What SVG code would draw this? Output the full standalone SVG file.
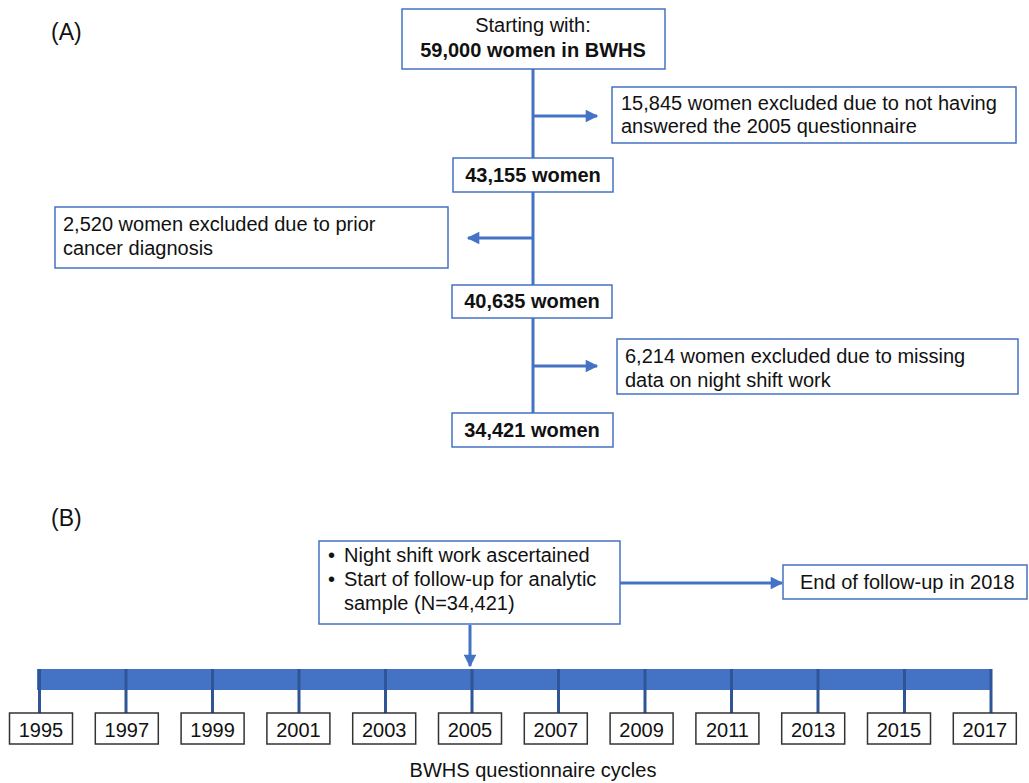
<svg xmlns="http://www.w3.org/2000/svg" width="1029" height="783" viewBox="0 0 1029 783">
<defs>
<style>
text{font-family:"Liberation Sans",Arial,Helvetica,sans-serif;font-size:20px;fill:#111}
.b{font-weight:bold}
.c{text-anchor:middle}
.box{fill:#fff;stroke:#4472C4;stroke-width:1.5}
.yb{fill:#fff;stroke:#333;stroke-width:1.5}
.ln{stroke:#4472C4;stroke-width:3;fill:none}
.arr{stroke:#4472C4;stroke-width:3;fill:none;marker-end:url(#ah)}
.tick{stroke:#2F5597;stroke-width:3}
.lbl{font-size:23px}
</style>
<marker id="ah" viewBox="0 0 10 10" refX="9" refY="5" markerWidth="4.6" markerHeight="4.2" orient="auto" markerUnits="strokeWidth">
<path d="M0,0 L10,5 L0,10 z" fill="#4472C4"/>
</marker>
</defs>
<rect width="1029" height="783" fill="#fff"/>

<text class="lbl" x="51" y="40">(A)</text>
<text class="lbl" x="51" y="526">(B)</text>

<g id="connectors">
<line class="ln" x1="533" y1="69" x2="533" y2="413"/>
<line class="arr" x1="533" y1="116" x2="597" y2="116"/>
<line class="arr" x1="533" y1="238" x2="468" y2="238"/>
<line class="arr" x1="533" y1="366" x2="597" y2="366"/>
<line class="arr" x1="620" y1="583" x2="782" y2="583"/>
<line class="arr" x1="470" y1="625" x2="470" y2="666"/>
</g>

<g id="start">
<rect class="box" x="402" y="9" width="263" height="60"/>
<text class="c" x="533" y="32">Starting with:</text>
<text class="c b" x="533" y="57">59,000 women in BWHS</text>
</g>
<g id="excl1">
<rect class="box" x="612" y="87" width="404" height="56"/>
<text x="621" y="110">15,845 women excluded due to not having</text>
<text x="621" y="133">answered the 2005 questionnaire</text>
</g>
<g id="n43155">
<rect class="box" x="453" y="158" width="160" height="34"/>
<text class="c b" x="533" y="182">43,155 women</text>
</g>
<g id="excl2">
<rect class="box" x="55" y="207" width="393" height="61"/>
<text x="63" y="231">2,520 women excluded due to prior</text>
<text x="63" y="255">cancer diagnosis</text>
</g>
<g id="n40635">
<rect class="box" x="452" y="285" width="160" height="33"/>
<text class="c b" x="532" y="308">40,635 women</text>
</g>
<g id="excl3">
<rect class="box" x="617" y="339" width="401" height="55"/>
<text x="625" y="363">6,214 women excluded due to missing</text>
<text x="625" y="387">data on night shift work</text>
</g>
<g id="n34421">
<rect class="box" x="452" y="413" width="161" height="34"/>
<text class="c b" x="532" y="437">34,421 women</text>
</g>

<g id="nightshift">
<rect class="box" x="319" y="541" width="301" height="83"/>
<text x="328" y="562">•</text>
<text x="344" y="562">Night shift work ascertained</text>
<text x="328" y="586">•</text>
<text x="344" y="586">Start of follow-up for analytic</text>
<text x="344" y="610">sample (N=34,421)</text>
</g>
<g id="endfu">
<rect class="box" x="783" y="565" width="244" height="34"/>
<text x="800" y="589">End of follow-up in 2018</text>
</g>

<g id="timeline">
<rect x="37" y="669" width="955" height="21" fill="#4472C4"/>
<line class="tick" x1="39.5" y1="669" x2="39.5" y2="713"/>
<line class="tick" x1="126" y1="669" x2="126" y2="713"/>
<line class="tick" x1="212.5" y1="669" x2="212.5" y2="713"/>
<line class="tick" x1="299" y1="669" x2="299" y2="713"/>
<line class="tick" x1="385.5" y1="669" x2="385.5" y2="713"/>
<line class="tick" x1="472" y1="669" x2="472" y2="713"/>
<line class="tick" x1="558.5" y1="669" x2="558.5" y2="713"/>
<line class="tick" x1="645" y1="669" x2="645" y2="713"/>
<line class="tick" x1="731.5" y1="669" x2="731.5" y2="713"/>
<line class="tick" x1="818" y1="669" x2="818" y2="713"/>
<line class="tick" x1="904.5" y1="669" x2="904.5" y2="713"/>
<line class="tick" x1="991" y1="669" x2="991" y2="713"/>
</g>

<g id="y1995"><rect class="yb" x="9.5" y="713" width="63" height="31"/><text class="c" x="41" y="737">1995</text></g>
<g id="y1997"><rect class="yb" x="95.3" y="713" width="63" height="31"/><text class="c" x="126.8" y="737">1997</text></g>
<g id="y1999"><rect class="yb" x="181.1" y="713" width="63" height="31"/><text class="c" x="212.6" y="737">1999</text></g>
<g id="y2001"><rect class="yb" x="266.9" y="713" width="63" height="31"/><text class="c" x="298.4" y="737">2001</text></g>
<g id="y2003"><rect class="yb" x="352.7" y="713" width="63" height="31"/><text class="c" x="384.2" y="737">2003</text></g>
<g id="y2005"><rect class="yb" x="438.5" y="713" width="63" height="31"/><text class="c" x="470" y="737">2005</text></g>
<g id="y2007"><rect class="yb" x="524.3" y="713" width="63" height="31"/><text class="c" x="555.8" y="737">2007</text></g>
<g id="y2009"><rect class="yb" x="610.1" y="713" width="63" height="31"/><text class="c" x="641.6" y="737">2009</text></g>
<g id="y2011"><rect class="yb" x="695.9" y="713" width="63" height="31"/><text class="c" x="727.4" y="737">2011</text></g>
<g id="y2013"><rect class="yb" x="781.7" y="713" width="63" height="31"/><text class="c" x="813.2" y="737">2013</text></g>
<g id="y2015"><rect class="yb" x="867.5" y="713" width="63" height="31"/><text class="c" x="899" y="737">2015</text></g>
<g id="y2017"><rect class="yb" x="953.3" y="713" width="63" height="31"/><text class="c" x="984.8" y="737">2017</text></g>

<text class="c" x="533" y="777">BWHS questionnaire cycles</text>
</svg>
